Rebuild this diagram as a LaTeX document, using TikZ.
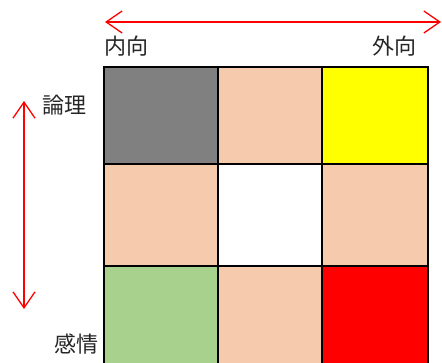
\documentclass[tikz,border=0pt]{standalone}
\usepackage{fontspec}
\newfontfamily\cjk{Noto Sans CJK JP}
\usetikzlibrary{arrows.meta}
\definecolor{peach}{HTML}{F6CBAD}
\definecolor{cgray}{HTML}{808080}
\definecolor{cgreen}{HTML}{A9D18E}
\definecolor{cyel}{HTML}{FFFF00}
\definecolor{cred}{HTML}{FF0000}
\tikzset{
  cell/.style={draw=black, line width=2.8pt, anchor=north west, inner sep=0pt, outer sep=0pt},
  lbl/.style={font=\cjk\fontsize{22}{22}\selectfont, inner sep=0pt, text=black!85},
  redarrow/.style={draw=red, line width=1.3pt, {Straight Barb[length=16pt,width=22pt,line width=1.3pt]}-{Straight Barb[length=16pt,width=22pt,line width=1.3pt]}}
}
\begin{document}
\begin{tikzpicture}[x=1pt,y=-1pt]
\clip (0,0) rectangle (442,363);
\fill[white] (0,0) rectangle (442,363);
% cells: columns 104-218, 218-322, 322-428; rows 67-164, 164-266, 266-380
\node[cell, fill=cgray, minimum width=114pt, minimum height=97pt] (c11) at (104,67) {};
\node[cell, fill=peach, minimum width=104pt, minimum height=97pt] (c12) at (218,67) {};
\node[cell, fill=cyel, minimum width=106pt, minimum height=97pt] (c13) at (322,67) {};
\node[cell, fill=peach, minimum width=114pt, minimum height=102pt] (c21) at (104,164) {};
\node[cell, fill=white, minimum width=104pt, minimum height=102pt] (c22) at (218,164) {};
\node[cell, fill=peach, minimum width=106pt, minimum height=102pt] (c23) at (322,164) {};
\node[cell, fill=cgreen, minimum width=114pt, minimum height=110pt] (c31) at (104,266) {};
\node[cell, fill=peach, minimum width=104pt, minimum height=110pt] (c32) at (218,266) {};
\node[cell, fill=cred, minimum width=106pt, minimum height=110pt] (c33) at (322,266) {};
% labels
\node[lbl, anchor=west] (nai) at (104,46) {内向};
\node[lbl, anchor=east] (gai) at (417,46) {外向};
\node[lbl, anchor=west] (ron) at (42,105) {論理};
\node[lbl, anchor=west] (kan) at (54,344) {感情};
% arrows
\coordinate (hl) at (105,22);
\coordinate (hr) at (441,22);
\coordinate (vt) at (24,101);
\coordinate (vb) at (24,309);
\draw[redarrow] (hl) -- (hr);
\draw[redarrow] (vt) -- (vb);
\end{tikzpicture}
\end{document}
